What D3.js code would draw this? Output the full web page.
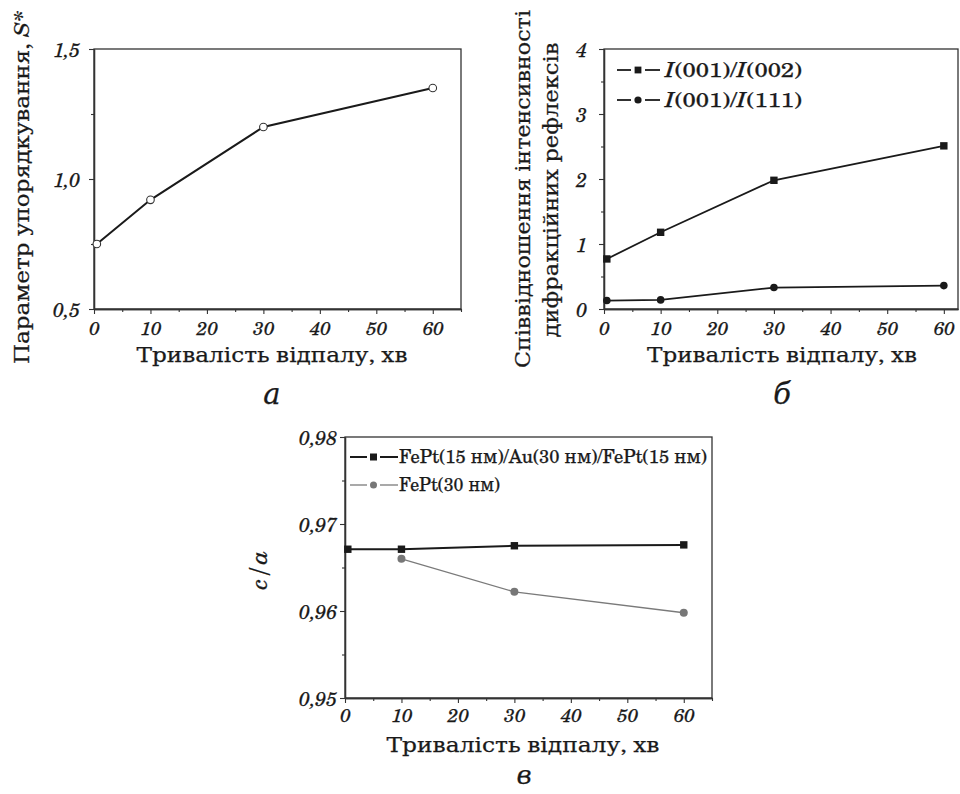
<!DOCTYPE html>
<html><head><meta charset="utf-8">
<script src="https://cdn.jsdelivr.net/npm/d3@7"></script>
<style>body{margin:0;background:#fff} text{stroke:#1a1a1a;stroke-width:0.25px}</style>
</head><body><svg id="c" width="960" height="794" xmlns="http://www.w3.org/2000/svg"></svg>
<script>
// ---- data ----
const timeA = [0.5, 10, 30, 60];
const orderS = [0.75, 0.92, 1.2, 1.35];

const timeB = [0.5, 10, 30, 60];
const ratio002 = [0.77, 1.18, 1.98, 2.51];
const ratio111 = [0.13, 0.14, 0.33, 0.36];

const timeC1 = [0.5, 10, 30, 60];
const caMulti = [0.9671, 0.9671, 0.9675, 0.9676];
const timeC2 = [10, 30, 60];
const caSingle = [0.9660, 0.9622, 0.9598];

const xTicks = [0, 10, 20, 30, 40, 50, 60];
const xMinor = [5, 15, 25, 35, 45, 55, 65];
const yTicksA = [0.5, 1.0, 1.5];
const yMinorA = [0.75, 1.25];
const yTicksB = [0, 1, 2, 3, 4];
const yMinorB = [0.5, 1.5, 2.5, 3.5];
const yTicksC = [0.95, 0.96, 0.97, 0.98];
const yMinorC = [0.955, 0.965, 0.975];

const xTitle = "Тривалість відпалу, хв";
const legendB = ["002", "111"];
const legendC = ["FePt(15 нм)/Au(30 нм)/FePt(15 нм)", "FePt(30 нм)"];

const svg = d3.select("#c");
const SERIF = "'TeX Gyre Schola', 'DejaVu Serif', 'Liberation Serif', serif";
const INK = "#1a1a1a";

function fmtComma(dec) { return d => d3.format("." + dec + "f")(d).replace(".", ","); }

function panel(o) {
  const x = d3.scaleLinear().domain(o.xd).range(o.xr);
  const y = d3.scaleLinear().domain(o.yd).range(o.yr);
  const g = svg.append("g");
  g.append("rect").attr("x", o.xr[0]).attr("y", o.yr[1])
    .attr("width", o.xr[1] - o.xr[0]).attr("height", o.yr[0] - o.yr[1])
    .attr("fill", "none").attr("stroke", "#333").attr("stroke-width", 1.3);
  const xa = g.append("g").attr("transform", `translate(0,${o.yr[0]})`)
    .call(d3.axisBottom(x).tickValues(xTicks).tickSize(5).tickSizeOuter(0).tickFormat(d => d));
  g.append("g").attr("transform", `translate(0,${o.yr[0]})`)
    .call(d3.axisBottom(x).tickValues(xMinor.filter(v => v <= o.xd[1])).tickSize(3).tickSizeOuter(0).tickFormat(""));
  xa.attr("font-family", null).attr("font-size", null);
  xa.selectAll("text").attr("y", o.xLabY).attr("dy", null)
    .style("font-family", SERIF).style("font-style", "italic").style("font-size", "19px").attr("fill", INK);
  const ya = g.append("g").attr("transform", `translate(${o.xr[0]},0)`)
    .call(d3.axisLeft(y).tickValues(o.yt).tickSize(5).tickSizeOuter(0).tickPadding(o.yPad).tickFormat(o.yf));
  g.append("g").attr("transform", `translate(${o.xr[0]},0)`)
    .call(d3.axisLeft(y).tickValues(o.ym).tickSize(3).tickSizeOuter(0).tickFormat(""));
  ya.attr("font-family", null).attr("font-size", null);
  ya.selectAll("text").attr("dy", "0.36em")
    .style("font-family", SERIF).style("font-style", "italic").style("font-size", "19.5px").attr("fill", INK);
  g.selectAll(".domain").attr("stroke", "#333").attr("stroke-width", 1.3);
  g.selectAll(".tick line").attr("stroke", "#333").attr("stroke-width", 1.1);
  g.append("text").attr("x", o.xtX).attr("y", o.xtY).attr("text-anchor", "middle")
    .attr("textLength", o.xtW).attr("lengthAdjust", "spacingAndGlyphs")
    .style("font-family", SERIF).style("font-size", "20px").attr("fill", INK).text(xTitle);
  g.append("text").attr("x", o.letX).attr("y", o.letY).attr("text-anchor", "middle")
    .style("font-family", SERIF).style("font-style", "italic").style("font-size", o.letS || "29px")
    .attr("fill", INK).text(o.letter);
  return { x, y, g };
}

// ---- Panel а ----
const A = panel({ xd: [0, 65], xr: [94, 461], yd: [0.5, 1.5], yr: [309, 49],
  yt: yTicksA, ym: yMinorA, yf: fmtComma(1), yPad: 9, xLabY: 26,
  xtX: 272, xtY: 362, xtW: 271, letX: 272, letY: 404, letter: "а" });
{
  const pts = timeA.map((t, i) => [t, orderS[i]]);
  A.g.append("path").attr("d", d3.line().x(d => A.x(d[0])).y(d => A.y(d[1]))(pts))
    .attr("fill", "none").attr("stroke", INK).attr("stroke-width", 2);
  A.g.selectAll("circle.p").data(pts).join("circle")
    .attr("cx", d => A.x(d[0])).attr("cy", d => A.y(d[1])).attr("r", 3.8)
    .attr("fill", "#fff").attr("stroke", "#333").attr("stroke-width", 1.1);
  const lab = A.g.append("text").attr("transform", "translate(29,187) rotate(-90)")
    .attr("text-anchor", "middle").attr("textLength", 354).attr("lengthAdjust", "spacingAndGlyphs")
    .style("font-family", SERIF).style("font-size", "21px").attr("fill", INK);
  lab.append("tspan").text("Параметр упорядкування, ");
  lab.append("tspan").style("font-style", "italic").text("S*");
}

// ---- Panel б ----
const B = panel({ xd: [0, 62.5], xr: [604, 958], yd: [0, 4], yr: [309, 49],
  yt: yTicksB, ym: yMinorB, yf: d => d, yPad: 12, xLabY: 26,
  xtX: 782, xtY: 362, xtW: 270, letX: 782, letY: 404, letter: "б" });
{
  const s1 = timeB.map((t, i) => [t, ratio002[i]]);
  const s2 = timeB.map((t, i) => [t, ratio111[i]]);
  const ln = d3.line().x(d => B.x(d[0])).y(d => B.y(d[1]));
  B.g.append("path").attr("d", ln(s1)).attr("fill", "none").attr("stroke", INK).attr("stroke-width", 1.8);
  B.g.append("path").attr("d", ln(s2)).attr("fill", "none").attr("stroke", INK).attr("stroke-width", 1.8);
  B.g.selectAll("rect.m").data(s1).join("rect")
    .attr("x", d => B.x(d[0]) - 3.7).attr("y", d => B.y(d[1]) - 3.7).attr("width", 7.4).attr("height", 7.4).attr("fill", INK);
  B.g.selectAll("circle.m").data(s2).join("circle")
    .attr("cx", d => B.x(d[0])).attr("cy", d => B.y(d[1])).attr("r", 3.8).attr("fill", INK);
  const ly = [70, 100];
  legendB.forEach((code, i) => {
    B.g.append("line").attr("x1", 617).attr("x2", 631).attr("y1", ly[i]).attr("y2", ly[i]).attr("stroke", INK).attr("stroke-width", 1.8);
    B.g.append("line").attr("x1", 645).attr("x2", 660).attr("y1", ly[i]).attr("y2", ly[i]).attr("stroke", INK).attr("stroke-width", 1.8);
    if (i === 0) B.g.append("rect").attr("x", 638 - 3.4).attr("y", ly[i] - 3.4).attr("width", 6.8).attr("height", 6.8).attr("fill", INK);
    else B.g.append("circle").attr("cx", 638).attr("cy", ly[i]).attr("r", 3.6).attr("fill", INK);
    const t = B.g.append("text").attr("x", 665).attr("y", ly[i] + 7)
      .attr("textLength", 137).attr("lengthAdjust", "spacingAndGlyphs")
      .style("font-family", SERIF).style("font-size", "20px").attr("fill", INK);
    t.append("tspan").style("font-style", "italic").text("I");
    t.append("tspan").text("(001)/");
    t.append("tspan").style("font-style", "italic").text("I");
    t.append("tspan").text("(" + code + ")");
  });
  B.g.append("text").attr("transform", "translate(530,189) rotate(-90)").attr("text-anchor", "middle")
    .attr("textLength", 358).attr("lengthAdjust", "spacingAndGlyphs")
    .style("font-family", SERIF).style("font-size", "21px").attr("fill", INK).text("Співвідношення інтенсивності");
  B.g.append("text").attr("transform", "translate(558,190) rotate(-90)").attr("text-anchor", "middle")
    .attr("textLength", 295).attr("lengthAdjust", "spacingAndGlyphs")
    .style("font-family", SERIF).style("font-size", "21px").attr("fill", INK).text("дифракційних рефлексів");
}

// ---- Panel в ----
const C = panel({ xd: [0, 65], xr: [345, 712], yd: [0.95, 0.98], yr: [698, 437],
  yt: yTicksC, ym: yMinorC, yf: fmtComma(2), yPad: 3, xLabY: 24,
  xtX: 523, xtY: 752, xtW: 273, letX: 524, letY: 784, letS: "26px", letter: "в" });
{
  const s1 = timeC1.map((t, i) => [t, caMulti[i]]);
  const s2 = timeC2.map((t, i) => [t, caSingle[i]]);
  const ln = d3.line().x(d => C.x(d[0])).y(d => C.y(d[1]));
  C.g.append("path").attr("d", ln(s2)).attr("fill", "none").attr("stroke", "#7a7a7a").attr("stroke-width", 1.3);
  C.g.append("path").attr("d", ln(s1)).attr("fill", "none").attr("stroke", INK).attr("stroke-width", 2);
  C.g.selectAll("circle.m").data(s2).join("circle")
    .attr("cx", d => C.x(d[0])).attr("cy", d => C.y(d[1])).attr("r", 4).attr("fill", "#777");
  C.g.selectAll("rect.m").data(s1).join("rect")
    .attr("x", d => C.x(d[0]) - 3.7).attr("y", d => C.y(d[1]) - 3.7).attr("width", 7.4).attr("height", 7.4).attr("fill", INK);
  const ly = [457, 485];
  legendC.forEach((txt, i) => {
    const col = i === 0 ? INK : "#7a7a7a";
    const w = i === 0 ? 2 : 1.3;
    C.g.append("line").attr("x1", 350).attr("x2", 367).attr("y1", ly[i]).attr("y2", ly[i]).attr("stroke", col).attr("stroke-width", w);
    C.g.append("line").attr("x1", 380).attr("x2", 398).attr("y1", ly[i]).attr("y2", ly[i]).attr("stroke", col).attr("stroke-width", w);
    if (i === 0) C.g.append("rect").attr("x", 373.5 - 3.5).attr("y", ly[i] - 3.5).attr("width", 7).attr("height", 7).attr("fill", INK);
    else C.g.append("circle").attr("cx", 373.5).attr("cy", ly[i]).attr("r", 3.5).attr("fill", "#777");
    C.g.append("text").attr("x", 399).attr("y", ly[i] + 6)
      .attr("textLength", i === 0 ? 308 : 101).attr("lengthAdjust", "spacingAndGlyphs")
      .style("font-family", SERIF).style("font-size", "19px").attr("fill", INK).text(txt);
  });
  C.g.append("text").attr("transform", "translate(267,570) rotate(-90)").attr("text-anchor", "middle")
    .style("font-family", SERIF).style("font-style", "italic").style("font-size", "24px").attr("fill", INK).text("c/a");
}
</script>
</body></html>
